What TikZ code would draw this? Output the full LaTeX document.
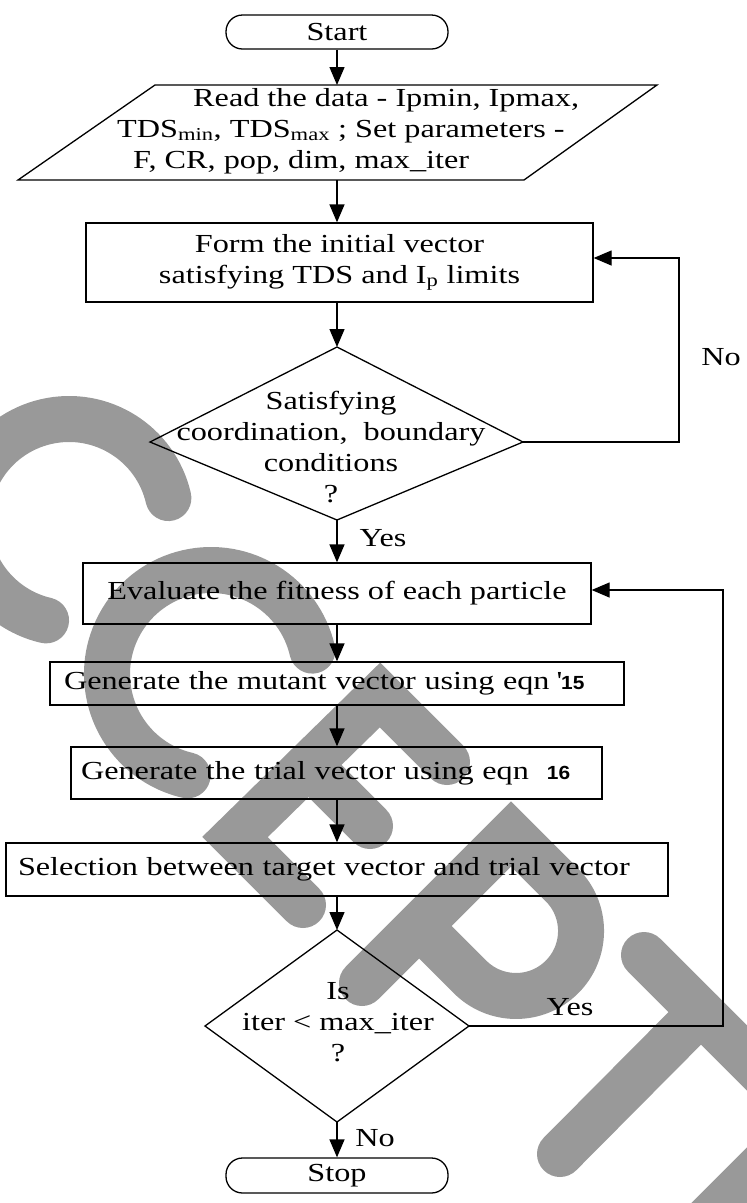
\documentclass[tikz,border=0pt]{standalone}
\usepackage{fontspec}
\setmainfont{Liberation Serif}[FakeStretch=1.24]
\newfontfamily\eqnfont{Liberation Sans}[FakeStretch=1.1]
\usetikzlibrary{arrows.meta}
\definecolor{wmgray}{RGB}{153,153,153}
\begin{document}
\begin{tikzpicture}[x=1pt,y=-1pt,
  font=\fontsize{26}{31}\selectfont,
  box/.style={draw, line width=1.3pt, inner sep=0pt, align=center},
  term/.style={draw, line width=1.3pt, rounded corners=16.5pt, minimum width=222pt, inner sep=0pt},
  edge/.style={line width=1.3pt},
  arr/.style={edge, -{Triangle[length=18pt,width=15pt]}},
  wm/.style={line width=46pt, draw=wmgray, line cap=round, line join=miter},
  lbl/.style={inner sep=0pt}
]
\useasboundingbox (0,0) rectangle (747,1203);

% grey stamp lettering behind the chart
\begin{scope}
  \clip (0,0) rectangle (747,1203);
  % C
  \draw[wm] (69,521) ++(-13:102) arc[start angle=-13, end angle=-257, radius=102];
  % C
  \draw[wm] (211,674) ++(-13:104) arc[start angle=-13, end angle=-257, radius=104];
  % E
  \draw[wm] (447,762) -- (380,695) -- (235,837) -- (303,905);
  \draw[wm] (310,766) -- (370,826);
  % P
  \draw[wm] (362,983) -- (511,834) -- (562,885)
        arc[start angle=-45, end angle=135, radius=65] -- (419,926);
  % T
  \draw[wm] (644,955) -- (770,1081);
  \draw[wm] (701,1012) -- (560,1154);
  % E (spine)
  \draw[wm] (690,1237) -- (800,1127);
\end{scope}

% terminals
\node[term, minimum height=34pt] (start) at (337,32) {Start};
\node[term, minimum height=35pt] (stop) at (337,1175.5) {Stop};

% input parallelogram
\coordinate (readtop) at (337,85);
\coordinate (readbot) at (337,180);
\draw[edge] (155,85) -- (657,85) -- (524,180) -- (18,180) -- cycle;
\node[lbl, anchor=west, align=left] (readtxt) at (117,131)
  {\hspace*{76pt}Read the data - Ipmin, Ipmax,\\
   TDS\textsubscript{min}, TDS\textsubscript{max} ; Set parameters -\\
   \hspace*{16pt}F, CR, pop, dim, max\_iter};

% process boxes
\node[box, minimum width=507pt, minimum height=79pt] (form) at (339.5,262.5)
  {Form the initial vector\\satisfying TDS and I\textsubscript{p} limits};
\node[box, minimum width=508pt, minimum height=61pt] (eval) at (337,593.5)
  {Evaluate the fitness of each particle};
\node[box, minimum width=574pt, minimum height=43pt, text width=546pt, inner xsep=14pt, align=left] (mut) at (337,683.5)
  {Generate the mutant vector using eqn\hspace{7pt}\textquotesingle{\eqnfont\bfseries\fontsize{19}{22}\selectfont 15}};
\node[box, minimum width=531pt, minimum height=52pt, text width=511pt, inner xsep=10pt, align=left] (trial) at (336.5,773)
  {Generate the trial vector using eqn\hspace{18pt}{\eqnfont\bfseries\fontsize{19}{22}\selectfont 16}};
\node[box, minimum width=662pt, minimum height=53pt, text width=638pt, inner xsep=12pt, align=left] (sel) at (337,869.5)
  {Selection between target vector and trial vector};

% decisions
\coordinate (d1t) at (337,347);
\coordinate (d1r) at (523,442);
\coordinate (d1b) at (337,520);
\coordinate (d1l) at (150,442);
\draw[edge] (d1t) -- (d1r) -- (d1b) -- (d1l) -- cycle;
\node[lbl, align=center] (sat) at (331,447)
  {Satisfying\\coordination,\ \ boundary\\conditions\\?};

\coordinate (d2t) at (337,930);
\coordinate (d2r) at (469,1026);
\coordinate (d2b) at (337,1122);
\coordinate (d2l) at (205,1026);
\draw[edge] (d2t) -- (d2r) -- (d2b) -- (d2l) -- cycle;
\node[lbl, align=center] (iter) at (338,1022.5)
  {Is\\iter < max\_iter\\?};

% main flow
\draw[arr] (start) -- (readtop);
\draw[arr] (readbot) -- (readbot |- form.north);
\draw[arr] (d1t |- form.south) -- (d1t);
\draw[arr] (d1b) -- (d1b |- eval.north);
\draw[arr] (eval) -- (mut);
\draw[arr] (mut.south) -- (mut.south |- trial.north);
\draw[arr] (sel.north |- trial.south) -- (sel.north);
\draw[arr] (sel) -- (d2t);
\draw[arr] (d2b) -- (stop);

% loops back
\coordinate (fb1) at (679,258);
\draw[arr] (d1r) -| (fb1) -- (fb1 -| form.east);
\coordinate (fb2) at (723,590);
\draw[arr] (d2r) -| (fb2) -- (fb2 -| eval.east);

% branch labels
\node[lbl] (no1) at (721,357) {No};
\node[lbl] (yes1) at (383,538) {Yes};
\node[lbl] (yes2) at (570,1007) {Yes};
\node[lbl] (no2) at (375,1138) {No};
\end{tikzpicture}
\end{document}
